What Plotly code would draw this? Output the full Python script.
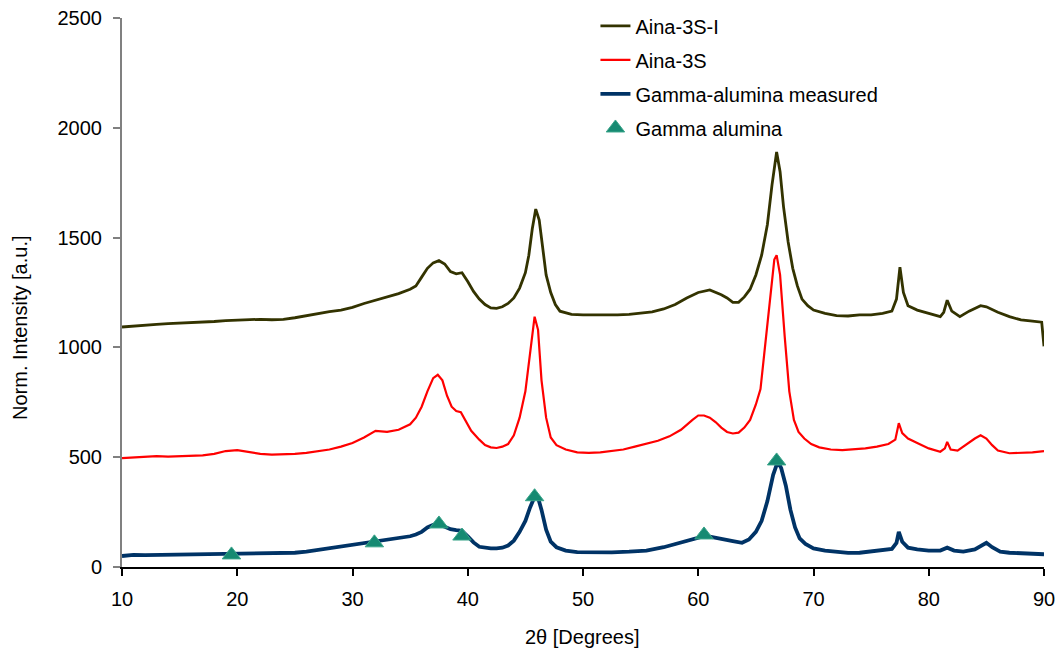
import plotly.graph_objects as go

# ---- data ----
x_3si = [10, 11, 12, 13, 14, 15, 16, 17, 18, 19, 20, 21, 22, 23, 24, 25, 26, 27, 28, 29, 30, 31, 32, 33, 34, 35, 35.5, 36, 36.5, 37, 37.5, 38, 38.5, 39, 39.5, 40, 40.5, 41, 41.5, 42, 42.5, 43, 43.5, 44, 44.5, 45, 45.3, 45.6, 45.9, 46.2, 46.5, 46.8, 47.2, 47.6, 48, 49, 50, 51, 52, 53, 54, 55, 56, 57, 58, 59, 60, 61, 62, 62.5, 63, 63.5, 64, 64.5, 65, 65.5, 66, 66.4, 66.8, 67.1, 67.4, 67.8, 68.2, 68.6, 69, 69.5, 70, 71, 72, 73, 74, 75, 76, 76.8, 77.2, 77.5, 77.8, 78.2, 79, 80, 81, 81.3, 81.6, 82, 82.7, 83.5, 84.5, 85, 86, 87, 88, 89, 89.8, 90]
y_3si = [1093, 1098, 1102, 1105, 1108, 1110, 1112, 1115, 1118, 1122, 1125, 1127, 1128, 1126, 1128, 1135, 1145, 1155, 1163, 1170, 1182, 1200, 1215, 1228, 1245, 1265, 1280, 1320, 1360, 1385, 1395, 1380, 1345, 1335, 1340, 1300, 1255, 1220, 1195, 1180, 1178, 1185, 1200, 1225, 1270, 1340, 1420, 1540, 1630, 1580, 1450, 1330, 1250, 1195, 1165, 1150, 1148, 1148, 1146, 1148, 1150, 1155, 1162, 1175, 1195, 1225, 1250, 1262, 1240, 1225, 1205, 1205, 1230, 1265, 1330, 1420, 1560, 1740, 1890, 1800, 1640, 1480, 1360, 1280, 1220, 1190, 1170, 1155, 1145, 1143, 1148, 1148, 1155, 1165, 1220, 1365, 1250, 1190, 1170, 1155, 1140, 1160, 1215, 1165, 1140, 1165, 1190, 1185, 1160, 1140, 1125, 1120, 1115, 1005]

x_3s = [10, 11, 12, 13, 14, 15, 16, 17, 18, 19, 20, 21, 22, 23, 24, 25, 26, 27, 28, 29, 30, 31, 32, 33, 34, 35, 35.5, 36, 36.5, 37, 37.4, 37.8, 38.2, 38.6, 39, 39.4, 39.8, 40.3, 41, 41.5, 42, 42.5, 43, 43.5, 44, 44.5, 45, 45.4, 45.8, 46.1, 46.4, 46.8, 47.2, 47.7, 48.5, 49.5, 50.5, 51.5, 52.5, 53.5, 54.5, 55.5, 56.5, 57.5, 58.5, 59.5, 60, 60.5, 61, 61.5, 62, 62.5, 63, 63.5, 64, 64.5, 65, 65.4, 65.8, 66.2, 66.6, 66.8, 67.1, 67.5, 67.9, 68.3, 68.7, 69.2, 69.8, 70.5, 71.5, 72.5, 73.5, 74.5, 75.5, 76.5, 77.1, 77.4, 77.7, 78.2, 79, 80, 81, 81.4, 81.6, 81.9, 82.5, 83.3, 84, 84.5, 85, 85.5, 86, 87, 88, 89, 90]
y_3s = [496, 500, 502, 505, 503, 505, 505, 508, 515, 528, 532, 525, 515, 512, 512, 515, 520, 528, 535, 548, 565, 590, 620, 615, 625, 650, 680, 730, 800, 860, 875, 850, 780, 730, 710, 705, 670, 620, 580, 555, 545, 542, 548, 560, 600, 680, 800, 980, 1140, 1080, 850, 680, 590, 555, 535, 522, 520, 522, 528, 535, 548, 560, 575, 595, 625, 670, 690, 690, 680, 660, 635, 615, 608, 612, 635, 670, 740, 810, 1000, 1180, 1400, 1420, 1330, 1050, 800, 670, 615, 585, 560, 545, 535, 532, 535, 540, 548, 560, 580, 655, 610, 585, 565, 540, 525, 540, 570, 535, 530, 560, 585, 600, 585, 555, 530, 518, 520, 522, 528]

x_meas = [10, 11, 12, 13, 14, 15, 16, 17, 18, 19, 20, 21, 22, 23, 24, 25, 26, 27, 28, 29, 30, 31, 32, 33, 34, 35, 35.5, 36, 36.5, 37, 37.5, 38, 38.5, 39, 39.5, 40, 40.5, 41, 41.5, 42, 42.5, 43, 43.5, 44, 44.5, 45, 45.4, 45.8, 46.1, 46.4, 46.8, 47.2, 47.7, 48.5, 49.5, 51, 52.5, 54, 55.5, 57, 58, 59, 60, 60.5, 61, 62, 63, 63.8, 64.4, 65, 65.5, 66, 66.5, 66.9, 67.2, 67.6, 68, 68.4, 68.8, 69.3, 70, 71, 72, 73, 74, 75, 76, 76.8, 77.2, 77.4, 77.7, 78.2, 79, 80, 81, 81.6, 82.2, 83, 84, 84.6, 85, 85.5, 86.2, 87, 88, 89, 90]
y_meas = [50, 55, 54, 55, 53, 55, 55, 57, 58, 60, 62, 60, 60, 62, 63, 65, 70, 78, 85, 92, 100, 108, 115, 122, 130, 140, 148, 160, 180, 192, 195, 185, 172, 168, 165, 140, 112, 92, 88, 85, 85, 88, 98, 120, 160, 210, 270, 320, 315, 260, 170, 115, 90, 75, 68, 66, 67, 70, 75, 90, 105, 120, 135, 140, 138, 130, 118, 110, 125, 160, 210, 300, 420, 480, 450, 370, 260, 180, 130, 105, 85, 75, 68, 64, 65, 70, 75, 82, 110, 160, 115, 88, 80, 75, 75, 88, 75, 70, 80, 100, 110, 90, 70, 65, 62, 58, 58]

x_ref = [19.5, 31.9, 37.5, 39.5, 45.8, 60.5, 66.8]
y_ref = [55, 110, 196, 141, 320, 146, 483]

x_ticks = [10, 20, 30, 40, 50, 60, 70, 80, 90]
y_ticks = [0, 500, 1000, 1500, 2000, 2500]

x_title = "2θ [Degrees]"
y_title = "Norm. Intensity [a.u.]"

FONT = "Liberation Sans, Arial, sans-serif"

fig = go.Figure()
fig.add_trace(go.Scatter(x=x_3si, y=y_3si, mode="lines", name="Aina-3S-I",
                         line=dict(color="#333300", width=2.8), legendgroup="a"))
fig.add_trace(go.Scatter(x=x_3s, y=y_3s, mode="lines", name="Aina-3S",
                         line=dict(color="#ff0000", width=2.2), legendgroup="b"))
fig.add_trace(go.Scatter(x=x_meas, y=y_meas, mode="lines", name="Gamma-alumina measured",
                         line=dict(color="#003366", width=3.8), legendgroup="c"))
fig.add_trace(go.Scatter(x=x_ref, y=y_ref, mode="markers", name="Gamma alumina",
                         marker=dict(symbol="triangle-up", size=16, color="#168a72",
                                     line=dict(color="#3aa58a", width=1)), legendgroup="d"))

fig.update_layout(
    width=1060, height=657,
    margin=dict(l=122, r=16, t=18, b=90, autoexpand=False),
    paper_bgcolor="white", plot_bgcolor="white",
    font=dict(family=FONT, size=20, color="black"),
    showlegend=True,
    legend=dict(x=0.5135, y=1.021, xanchor="left", yanchor="top",
                bgcolor="rgba(0,0,0,0)", font=dict(size=20),
                tracegroupgap=5),
    xaxis=dict(range=[10, 90], tickvals=x_ticks, ticktext=[str(v) for v in x_ticks],
               showgrid=False, zeroline=False, showline=True, linecolor="black", linewidth=1.5,
               ticks="outside", ticklen=7, tickcolor="black", tickwidth=1.5,
               tickfont=dict(size=20), ticklabelstandoff=6),
    yaxis=dict(range=[0, 2500], tickvals=y_ticks, ticktext=[str(v) for v in y_ticks],
               showgrid=False, zeroline=False, showline=True, linecolor="#808080", linewidth=2,
               ticks="outside", ticklen=7, tickcolor="#808080", tickwidth=1.5,
               tickfont=dict(size=20), ticklabelstandoff=7),
    annotations=[
        dict(text=x_title, xref="paper", yref="paper", x=(582 - 122) / 922, y=-(637 - 567) / 549,
             xanchor="center", yanchor="middle", showarrow=False, font=dict(size=20)),
        dict(text=y_title, xref="paper", yref="paper", x=-(122 - 20) / 922, y=(567 - 328) / 549,
             xanchor="center", yanchor="middle", showarrow=False, textangle=-90, font=dict(size=20)),
    ],
)

fig.write_html("out.html")
